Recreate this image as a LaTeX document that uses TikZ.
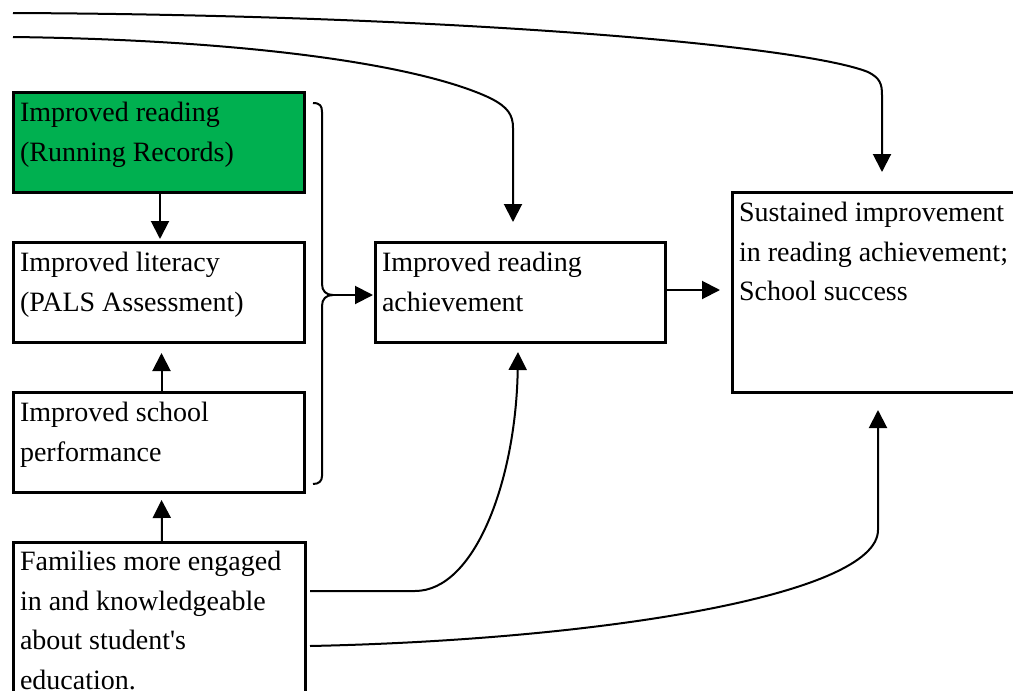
\documentclass[tikz,border=0pt]{standalone}
\usepackage{fontspec}
\newfontfamily\tnr{Liberation Serif}
\usetikzlibrary{arrows.meta}
\definecolor{boxgreen}{RGB}{0,176,80}
\begin{document}
\begin{tikzpicture}[x=1pt,y=-1pt,
  box/.style={draw,line width=3pt,rectangle,inner sep=0pt,outer sep=0pt,anchor=north west},
  txt/.style={anchor=north west,inner sep=0pt,outer sep=0pt,align=left,font=\tnr\fontsize{28}{39.5}\selectfont},
  arr/.style={line width=2pt,-{Triangle[length=18pt,width=18pt]}},
  brace/.style={line width=2pt}]
\useasboundingbox (0,0) rectangle (1013,691);
\clip (0,0) rectangle (1013,691);
% boxes
\node[box,fill=boxgreen,minimum width=291pt,minimum height=100pt] (b1) at (13,92) {};
\node[box,minimum width=291pt,minimum height=100pt] (b2) at (13,242) {};
\node[box,minimum width=291pt,minimum height=100pt] (b3) at (13,392) {};
\node[box,minimum width=292pt,minimum height=200pt] (b4) at (13,542) {};
\node[box,minimum width=290pt,minimum height=100pt] (bm) at (375,242) {};
\node[box,minimum width=300pt,minimum height=200pt] (br) at (732,192) {};
% texts
\node[txt] (t1) at (20,94) {\strut Improved reading\\\strut(Running Records)};
\node[txt] (t2) at (20,244) {\strut Improved literacy\\\strut(PALS Assessment)};
\node[txt] (t3) at (20,394) {\strut Improved school\\\strut performance};
\node[txt] (t4) at (20,543) {\strut Families more engaged\\\strut in and knowledgeable\\\strut about student's\\\strut education.};
\node[txt] (tm) at (382,244) {\strut Improved reading\\\strut achievement};
\node[txt] (tr) at (739,194) {\strut Sustained improvement\\\strut in reading achievement;\\\strut School success};
% brace
\coordinate (bt) at (333,295);
\draw[brace] (313,103) .. controls (320,103) and (322,106) .. (322,112)
  -- (322,284) .. controls (322,291) and (326,295) .. (bt)
  .. controls (326,295) and (322,299) .. (322,306)
  -- (322,476) .. controls (322,481) and (319,484) .. (313,484);
% straight arrows
\draw[arr,shorten >=3pt] ([xshift=1.5pt]b1.south) -- ([xshift=1.5pt]b2.north);
\draw[arr,shorten >=11pt] ([xshift=3pt]b3.north) -- ([xshift=3pt]b2.south);
\draw[arr,shorten >=8pt] ([xshift=3pt]b4.north) -- ([xshift=3pt]b3.south);
\draw[arr,shorten >=2pt] (bt) -- (bm.west |- bt);
\draw[arr,shorten >=12pt] ([yshift=2pt]bm.east) -- ([yshift=2pt]br.west |- bm.east);
% curved connectors
\coordinate (s1) at (13,13);
\coordinate (e1) at (882,172);
\coordinate (s2) at (13,37);
\coordinate (e2) at (513,222);
\coordinate (s3) at (310,591);
\coordinate (e3) at (518,352);
\coordinate (s4) at (310,646);
\coordinate (e4) at (878,410);
\draw[arr] (s1) .. controls (450,15) and (800,45) .. (868,72)
  .. controls (880,78) and (882,84) .. (882,95) -- (e1);
\draw[arr] (s2) .. controls (250,40) and (420,65) .. (490,98)
  .. controls (508,107) and (513,115) .. (513,128) -- (e2);
\draw[arr] (s3) -- (415,591) .. controls (475,591) and (516,480) .. (e3);
\draw[arr] (s4) .. controls (600,640) and (878,595) .. (878,530) -- (e4);
\end{tikzpicture}
\end{document}
